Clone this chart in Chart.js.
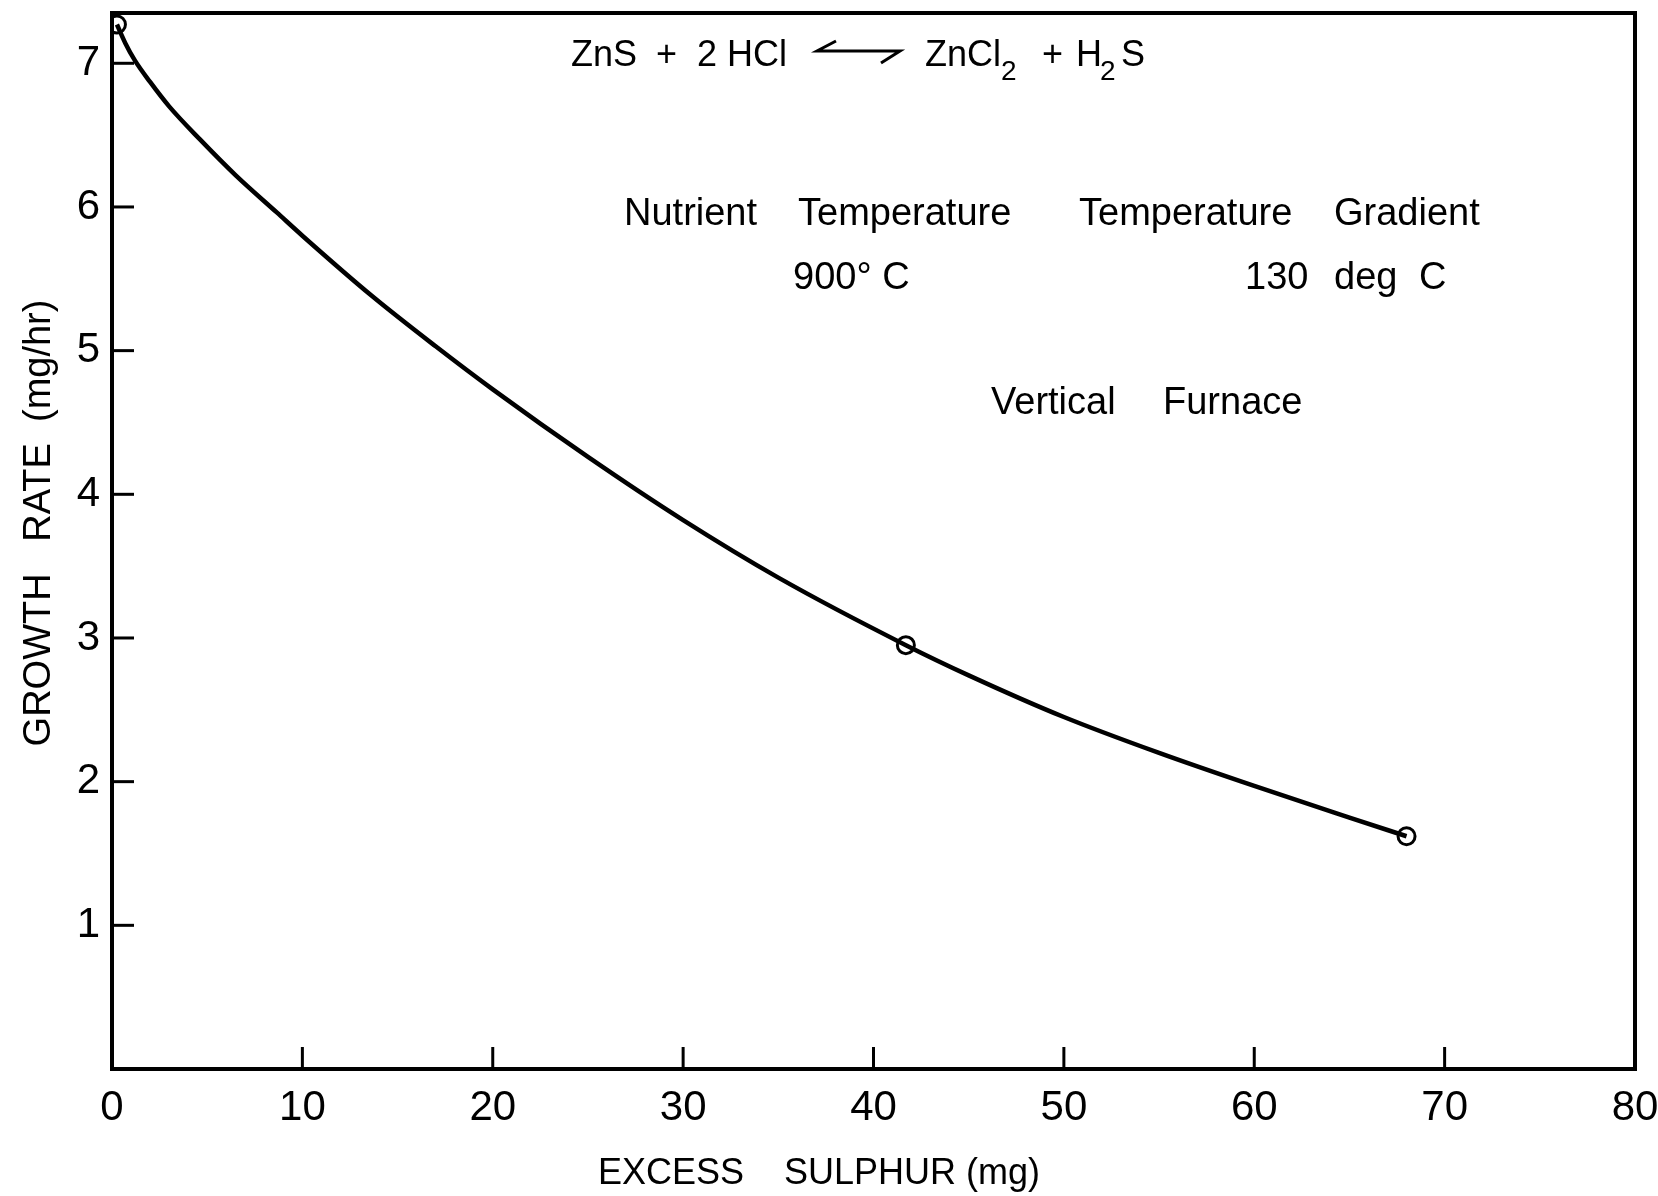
<!DOCTYPE html>
<html>
<head>
<meta charset="utf-8">
<script src="https://cdn.jsdelivr.net/npm/chart.js@4/dist/chart.umd.min.js"></script>
<style>
  html, body { margin: 0; padding: 0; background: #fff; }
  #wrap { width: 1658px; height: 1196px; }
</style>
</head>
<body>
<div id="wrap"><canvas id="c" width="1658" height="1196"></canvas></div>
<script>
// ---- data ----
const curveX = [0.26, 0.7, 1.2, 2, 3, 4.62, 6.5, 8.67, 10, 13.66, 17, 20, 25, 30, 35, 41.7, 45, 50, 55, 60, 65, 68];
const curveY = [7.27, 7.14, 7.02, 6.87, 6.70, 6.47, 6.22, 5.96, 5.80, 5.38, 5.03, 4.73, 4.26, 3.82, 3.42, 2.95, 2.74, 2.45, 2.20, 1.97, 1.75, 1.62];
const pointX = [0.26, 41.7, 68.0];
const pointY = [7.27, 2.95, 1.62];
const xTickValues = [0, 10, 20, 30, 40, 50, 60, 70, 80];
const yTickValues = [1, 2, 3, 4, 5, 6, 7];
const xTitle = 'EXCESS    SULPHUR (mg)';
const yTitle = 'GROWTH   RATE  (mg/hr)';

const FONT = '"Liberation Sans", Arial, sans-serif';

const curveData = curveX.map((x, i) => ({ x, y: curveY[i] }));
const pointData = pointX.map((x, i) => ({ x, y: pointY[i] }));

const framePlugin = {
  id: 'frame',
  afterDatasetsDraw(chart) {
    const { ctx, chartArea: a, scales } = chart;
    ctx.save();
    ctx.strokeStyle = '#000';
    ctx.lineCap = 'butt';
    ctx.lineWidth = 4;
    ctx.strokeRect(a.left, a.top, a.right - a.left, a.bottom - a.top);
    ctx.lineWidth = 3;
    const tl = 22;
    xTickValues.forEach(v => {
      if (v <= 0 || v >= 80) return;
      const px = scales.x.getPixelForValue(v);
      ctx.beginPath(); ctx.moveTo(px, a.bottom); ctx.lineTo(px, a.bottom - tl); ctx.stroke();
    });
    yTickValues.forEach(v => {
      const py = scales.y.getPixelForValue(v);
      ctx.beginPath(); ctx.moveTo(a.left, py); ctx.lineTo(a.left + tl, py); ctx.stroke();
    });
    ctx.restore();
  },
  afterDraw(chart) {
    const ctx = chart.ctx;
    ctx.save();
    ctx.fillStyle = '#000';
    ctx.textBaseline = 'alphabetic';
    // axis titles
    ctx.font = '36px ' + FONT;
    ctx.textAlign = 'center';
    ctx.fillText(xTitle, 819, 1184);
    ctx.save();
    ctx.translate(50, 523);
    ctx.rotate(-Math.PI / 2);
    ctx.font = '38px ' + FONT;
    ctx.fillText(yTitle, 0, 0);
    ctx.restore();
    ctx.textAlign = 'left';
    // equation
    const eqY = 66;
    ctx.font = '36px ' + FONT;
    ctx.fillText('ZnS', 571, eqY);
    ctx.fillText('+', 656, eqY);
    ctx.fillText('2', 697, eqY);
    ctx.fillText('HCl', 727, eqY);
    ctx.fillText('ZnCl', 925, eqY);
    ctx.fillText('+', 1042, eqY);
    ctx.fillText('H', 1076, eqY);
    ctx.fillText('S', 1121, eqY);
    ctx.font = '28px ' + FONT;
    ctx.fillText('2', 1001, 80);
    ctx.fillText('2', 1100, 80);
    // equilibrium arrow
    ctx.strokeStyle = '#000';
    ctx.lineWidth = 3;
    ctx.lineJoin = 'miter';
    ctx.beginPath();
    ctx.moveTo(836, 41); ctx.lineTo(817, 51); ctx.lineTo(900, 51); ctx.lineTo(881, 63);
    ctx.stroke();
    // annotation block
    ctx.font = '38px ' + FONT;
    ctx.fillText('Nutrient', 624, 225);
    ctx.fillText('Temperature', 798, 225);
    ctx.fillText('Temperature', 1079, 225);
    ctx.fillText('Gradient', 1334, 225);
    ctx.fillText('900° C', 793, 289);
    ctx.fillText('130', 1245, 289);
    ctx.fillText('deg', 1334, 289);
    ctx.fillText('C', 1419, 289);
    ctx.fillText('Vertical', 991, 414);
    ctx.fillText('Furnace', 1163, 414);
    ctx.restore();
  }
};

new Chart(document.getElementById('c'), {
  type: 'scatter',
  data: {
    datasets: [
      {
        label: 'Growth rate curve',
        data: curveData,
        showLine: true,
        borderColor: '#000',
        borderWidth: 4.5,
        pointRadius: 0,
        cubicInterpolationMode: 'monotone',
        fill: false
      },
      {
        label: 'Measured',
        data: pointData,
        showLine: false,
        pointRadius: 8.5,
        pointBorderWidth: 3,
        pointBorderColor: '#000',
        pointBackgroundColor: 'rgba(0,0,0,0)'
      }
    ]
  },
  options: {
    responsive: false,
    animation: false,
    layout: { padding: { left: 0, right: 23, top: 13, bottom: 0 } },
    plugins: { legend: { display: false }, tooltip: { enabled: false } },
    scales: {
      x: {
        type: 'linear',
        min: 0, max: 80,
        afterFit(s) { s.height = 127; s.paddingLeft = 0; s.paddingRight = 0; },
        grid: { display: false, drawTicks: false },
        border: { display: true, color: '#000', width: 4 },
        ticks: {
          stepSize: 10, padding: 14, color: '#000',
          font: { family: FONT, size: 42 },
          maxRotation: 0, autoSkip: false
        },
        title: { display: false }
      },
      y: {
        type: 'linear',
        min: 0, max: 7.35,
        afterFit(s) { s.width = 112; s.paddingTop = 0; s.paddingBottom = 0; },
        grid: { display: false, drawTicks: false },
        border: { display: true, color: '#000', width: 4 },
        ticks: {
          stepSize: 1, includeBounds: false, padding: 12, color: '#000',
          font: { family: FONT, size: 42 },
          callback: v => (yTickValues.includes(v) ? String(v) : '')
        },
        title: { display: false }
      }
    }
  },
  plugins: [framePlugin]
});
</script>
</body>
</html>
